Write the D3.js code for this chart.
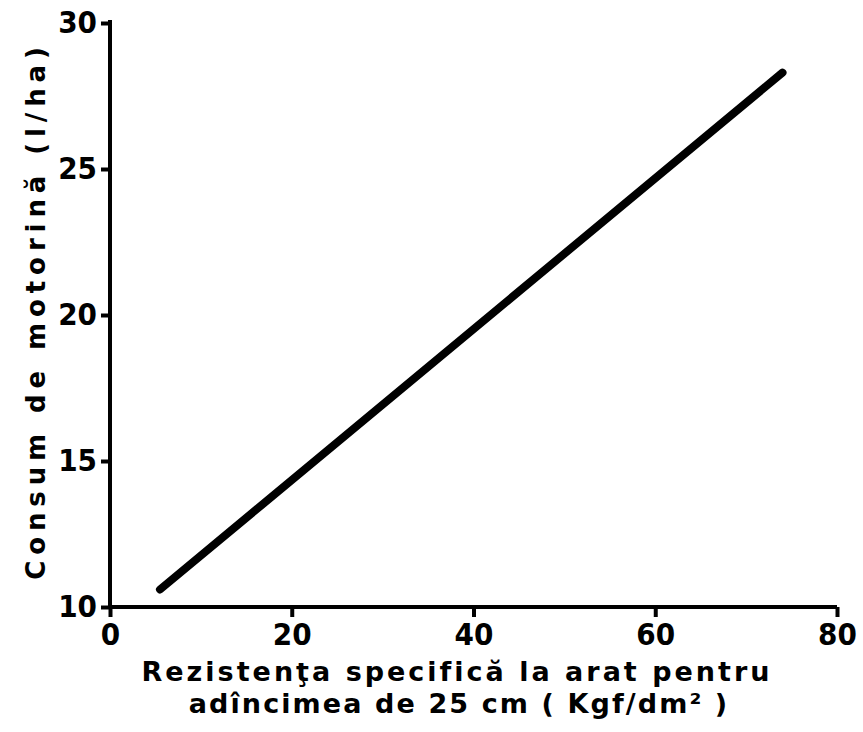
<!DOCTYPE html>
<html>
<head>
<meta charset="utf-8">
<script src="https://cdn.jsdelivr.net/npm/d3@7"></script>
<style>
  html, body { margin: 0; padding: 0; background: #fff; }
  svg text { font-family: "DejaVu Sans", sans-serif; fill: #000; }
</style>
</head>
<body>
<svg id="chart" width="863" height="732"></svg>
<script>
// Fuel consumption vs. specific ploughing resistance
const resistance = [5.5, 74];        // Kgf/dm²
const consumption = [10.6, 28.3];    // l/ha
const xTicks = [0, 20, 40, 60, 80];
const yTicks = [10, 15, 20, 25, 30];
const xTitle = ["Rezistenţa specifică la arat pentru", "adîncimea de 25 cm ( Kgf/dm² )"];
const yTitle = "Consum de motorină (l/ha)";

const svg = d3.select("#chart");
const x = d3.scaleLinear().domain([0, 80]).range([110, 837]);
const y = d3.scaleLinear().domain([10, 30]).range([607, 23]);

// axes
const xAxis = svg.append("g").attr("transform", `translate(0,${y(10)})`)
  .call(d3.axisBottom(x).tickValues(xTicks).tickSize(10).tickPadding(6));
const yAxis = svg.append("g").attr("transform", `translate(${x(0)},0)`)
  .call(d3.axisLeft(y).tickValues(yTicks).tickSize(9).tickPadding(4));

[xAxis, yAxis].forEach(g => {
  g.select(".domain").attr("stroke", "#000").attr("stroke-width", 4);
  g.selectAll(".tick line").attr("stroke", "#000").attr("stroke-width", 4);
  g.selectAll(".tick text").attr("font-size", 31).attr("font-weight", "bold")
    .style("font-family", '"DejaVu Sans Condensed", sans-serif');
});
// domain path without outer-tick hooks
xAxis.select(".domain").attr("d", `M${x(0)},0H${x(80)}`);
yAxis.select(".domain").attr("d", `M0,${y(10)}V${y(30) - 3}`);
xAxis.selectAll(".tick text").attr("dy", "0.72em");

// regression line
const pts = resistance.map((v, i) => [v, consumption[i]]);
svg.append("path")
  .datum(pts)
  .attr("fill", "none")
  .attr("stroke", "#000")
  .attr("stroke-width", 8)
  .attr("stroke-linecap", "round")
  .attr("d", d3.line().x(d => x(d[0])).y(d => y(d[1])));

// x title
const xt = svg.append("text")
  .attr("text-anchor", "middle")
  .attr("font-size", 27).attr("font-weight", "bold");
xt.append("tspan").attr("x", 457).attr("y", 681).attr("letter-spacing", 3).text(xTitle[0]);
xt.append("tspan").attr("x", 459).attr("y", 713).attr("letter-spacing", 2.1).text(xTitle[1]);

// y title
svg.append("text")
  .attr("transform", `translate(45,${(40 + 575) / 2 + 3}) rotate(-90)`)
  .attr("text-anchor", "middle")
  .attr("font-size", 26).attr("font-weight", "bold")
  .attr("letter-spacing", 5.9)
  .text(yTitle);
</script>
</body>
</html>
